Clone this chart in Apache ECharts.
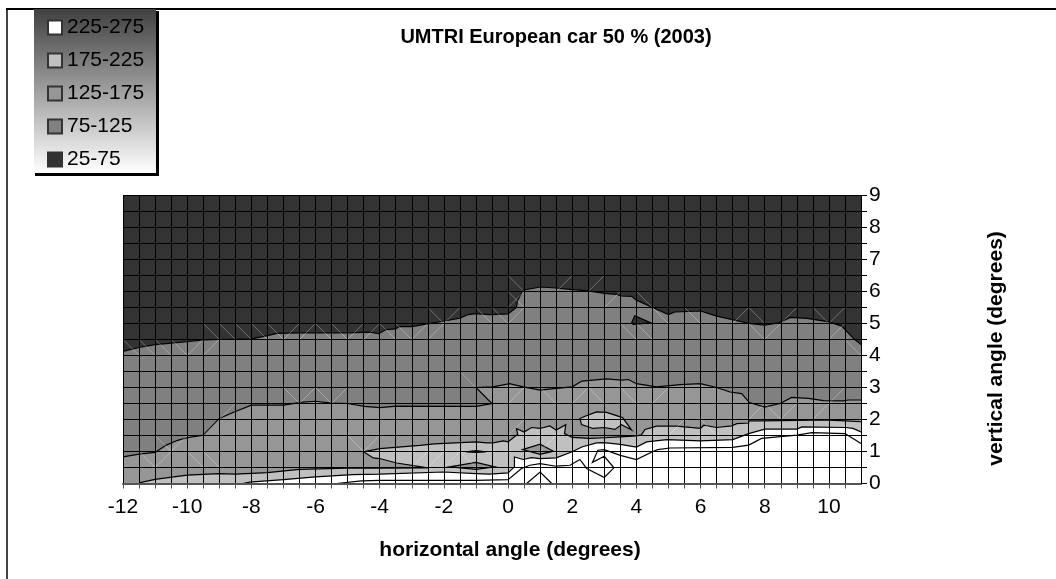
<!DOCTYPE html>
<html><head><meta charset="utf-8">
<style>html,body{margin:0;padding:0;background:#fff}#c{width:1056px;height:579px}</style>
<script src="https://cdn.jsdelivr.net/npm/echarts@6/dist/echarts.min.js"></script>
</head><body><div id="c"></div>
<script>
const bandNames = ['25-75','75-125','125-175','175-225','225-275'];
const legendOrder = ['225-275','175-225','125-175','75-125','25-75'];
const bandColors = ['#333333','#808080','#969696','#c0c0c0','#ffffff'];

const contourTop = [[-12,4.13],[-11.5,4.25],[-11,4.34],[-10,4.43],[-9.5,4.49],[-9,4.5],[-8,4.52],[-7.5,4.62],[-7.2,4.69],[-6.45,4.71],[-5,4.71],[-4.3,4.73],[-4.03,4.68],[-3.8,4.81],[-3.5,4.83],[-3.4,4.9],[-3,4.9],[-2.03,5.07],[-1.5,5.17],[-1.24,5.28],[-1,5.31],[-0.57,5.28],[0,5.3],[0.26,5.5],[0.3,5.73],[0.47,6.04],[1,6.14],[1.5,6.11],[2,6.06],[2.5,6.02],[3,5.94],[3.4,5.91],[3.5,5.86],[3.85,5.85],[4,5.73],[4.42,5.54],[5,5.28],[5.2,5.36],[6,5.39],[6.5,5.23],[7,5.12],[7.5,5],[8,4.95],[8.43,5.02],[8.8,5.19],[9.32,5.16],[10,5.05],[10.4,4.92],[10.77,4.53],[11,4.34]];
const contourMid = [[-12,0.83],[-11.5,0.92],[-11,0.97],[-10.65,1.2],[-10.3,1.35],[-10,1.43],[-9.5,1.51],[-9,2.03],[-8.57,2.22],[-8,2.45],[-7,2.45],[-6.4,2.54],[-6,2.57],[-5.5,2.51],[-5,2.5],[-4.47,2.41],[-4,2.37],[-3.47,2.42],[-1,2.41],[-0.5,2.5],[-1,3],[-0.47,3.02],[0.05,3.12],[0.47,3.02],[1,2.92],[1.5,2.97],[2,3.02],[2.3,3.2],[3.07,3.27],[3.54,3.23],[3.75,3.25],[4,3.12],[4.63,3.02],[5.36,3.09],[6,3.12],[6.5,3],[6.92,2.86],[7.28,2.81],[7.52,2.53],[8,2.39],[8.48,2.5],[8.84,2.69],[9.36,2.66],[9.83,2.59],[10.45,2.58],[10.6,2.61],[11,2.61]];
const contourLight = [[-11.5,0.02],[-11,0.13],[-10,0.26],[-9,0.31],[-8.5,0.29],[-7.5,0.34],[-6.5,0.44],[-5,0.48],[-4,0.48],[-2.5,0.49],[-3.47,0.64],[-4,0.78],[-4.2,0.8],[-4.5,0.99],[-4,1.09],[-2.75,1.19],[-2.3,1.24],[-1,1.3],[-0.67,1.27],[-0.47,1.27],[-0.15,1.33],[0,1.3],[0.3,1.54],[0.26,1.72],[0.5,1.61],[0.73,1.75],[1,1.72],[1.3,1.8],[1.5,1.67],[1.8,1.84],[1.76,1.56],[2,1.44],[2.55,1.41],[3,1.43],[3.5,1.46],[3.9,1.48],[4.15,1.51],[4.27,1.69],[4.63,1.79],[5.26,1.79],[6,1.72],[6.1,1.82],[6.5,1.75],[6.97,1.8],[7.13,1.87],[7.5,1.89],[7.5,1.96],[8,1.96],[9.5,1.98],[10,1.98],[10.5,1.96],[11,1.93]];
const contourWhite = [[-8.27,0],[-8.05,0.04],[-7,0.12],[-6,0.21],[-4.85,0.28],[-4,0.29],[-2,0.36],[-1,0.31],[-0.57,0.29],[0,0.33],[0.2,0.52],[0.2,0.83],[0.47,0.75],[0.73,0.81],[1,0.78],[1.5,0.8],[2,0.99],[2.3,1.14],[2.76,1.27],[3,1.28],[3.5,1.22],[4,1.14],[4.32,1.3],[4.95,1.37],[6,1.33],[7,1.37],[7.5,1.56],[8,1.7],[9,1.7],[9.16,1.77],[10.5,1.75],[10.75,1.72],[11,1.61]];

const islandDark = [[3.95,5.24],[4.45,5.02],[3.9,4.97],[3.85,5.02]];
const islandGrayA = [[-1.82,0.52],[-1,0.66],[-0.41,0.52],[-1,0.44]];
const islandGrayB = [[0.45,1.06],[1,1.23],[1.41,1.01],[1,0.91]];
const islandGrayC = [[-1.3,0.99],[-1,1.03],[-0.7,0.99],[-1,0.97]];
const islandLight = [[2.24,2.03],[2.29,1.84],[2.65,1.72],[3,1.75],[3.33,1.69],[3.54,1.84],[3.85,1.67],[3.57,2.06],[3.07,2.22],[2.76,2.24],[2.4,2.1]];

const whiteLineA = [[-5.35,0],[-4.57,0.08],[-4,0.1],[-1,0.1],[0,0.12],[0.42,0.47],[0.68,0.57],[1,0.62],[1.5,0.54],[1.93,0.57],[2.24,0.75],[2.45,0.47],[3,0.19],[3.3,0.49],[3,0.85],[2.63,0.66],[2.8,1.04],[3,1.06],[3.5,0.88],[4,0.75],[4.5,0.99],[4.66,1.06],[5.05,1.11],[7,1.13],[7.5,1.2],[7.9,1.41],[9,1.51],[9.47,1.59],[10.5,1.56],[11,1.25]];
const whiteLineB = [[0.58,0],[1,0.36],[1.36,0]];

// [left edge, bottom edge, kind]: kind 0 is "\", kind 1 is "/"
const cellDiagonals = [[-12,4,0],[-11.5,4,0],[-11,4,0],[-10.5,4,0],[-10,4,1],[-9.5,4,1],
[-9.5,4.5,0],[-9,4.5,0],[-8.5,4.5,0],[-8,4.5,0],[-7.5,4.5,0],[-7,4.5,1],[-6.5,4.5,1],[-6,4.5,0],[-5.5,4.5,0],[-5,4.5,1],[-4.5,4.5,1],[-4,4.5,0],[-3.5,4.5,0],[-3,4.5,1],[-2.5,4.5,1],
[-2.5,5,0],[-2,5,1],[-1,5,0],[-0.5,5,0],[0,5,1],[0,5.5,1],[0,5.5,0],[0,6,0],[1.5,6,1],[2.5,6,1],[3,5.5,1],[4,5.5,0],[4.5,5,0],[5.5,5,0],[7,5,1],[7.5,5,0],[8.5,5,1],[9.5,5,0],[10,5,1],
[3.5,4.5,0],[4,4.5,0],[7.5,4.5,0],[8,4.5,1],[10,4.5,1],[10.5,4,0],
[-1.5,3,0],[-7,2.5,0],[-6.5,2.5,1],[-6,2.5,0],[-5.5,2.5,1],[-9,2,1],[-9.5,1.5,1],[-5,1,0],[-4.5,1,1],[-11,1,0],[-10.5,1,1],[-11.5,0.5,0],[-11,0.5,1],[-10,0.5,0],[-9.5,0.5,0],
[0,2.5,1],[1,2.5,0],[2,2.5,1],[2.5,2.5,0],[3.5,2.5,0],[4.5,2.5,1],[7.5,2,1],[8,2,0],[8.5,2,1],[9.5,2,1],[10,2.5,1],[-3,0.5,1],[-2.5,0.5,1],[-2,0.5,1],[-1.5,0.5,0],[0,1.5,1],[1,1,1],[5,1.5,1],[6,1.5,0]];

const xRange = [-12, 11];
const yRange = [0, 9];
const xTickStep = 0.5, yTickStep = 0.5;

function pts(api, arr){ return arr.map(p => api.coord(p)); }
function bandSeries(idx, shapes){
  return {
    name: bandNames[idx], type: 'custom', coordinateSystem: 'cartesian2d',
    z: 2 + idx, silent: true, clip: true,
    itemStyle: {color: bandColors[idx], borderColor: '#333', borderWidth: 1},
    data: shapes.map(s => s.line[0]),
    renderItem: function(params, api){
      const s = shapes[params.dataIndex];
      const children = [];
      const base = s.line;
      const edge = {stroke:'#000', lineWidth:1.2, fill:null};
      if (s.open) {
        const closing = [[xRange[1], 0], [base[0][0], 0]];
        children.push({type:'polygon', shape:{points: pts(api, base.concat(closing))}, style:{fill: s.color, stroke: null}});
        children.push({type:'polyline', shape:{points: pts(api, base)}, style:edge});
      } else if (s.stroke) {
        children.push({type:'polyline', shape:{points: pts(api, base)}, style:edge});
      } else if (s.full) {
        children.push({type:'polygon', shape:{points: pts(api, base)}, style:{fill: s.color, stroke: null}});
      } else {
        children.push({type:'polygon', shape:{points: pts(api, base)}, style:{fill: s.color, stroke:'#000', lineWidth:1.2}});
      }
      return {type:'group', children};
    }
  };
}

const plotCorners = [[xRange[0],yRange[0]],[xRange[1],yRange[0]],[xRange[1],yRange[1]],[xRange[0],yRange[1]]];
const series = [
  bandSeries(0, [{line: plotCorners, color: bandColors[0], full: true}]),
  bandSeries(1, [{line: contourTop, color: bandColors[1], open: true}, {line: islandDark, color: bandColors[0]}]),
  bandSeries(2, [{line: contourMid, color: bandColors[2], open: true}]),
  bandSeries(3, [{line: contourLight, color: bandColors[3], open: true}, {line: islandLight, color: bandColors[3]}, {line: islandGrayA, color: bandColors[2]}, {line: islandGrayB, color: bandColors[2]}, {line: islandGrayC, color: bandColors[2]}]),
  bandSeries(4, [{line: contourWhite, color: bandColors[4], open: true}, {line: whiteLineA, stroke: true}, {line: whiteLineB, stroke: true}])
];
series.push({
  type:'custom', name:'cell diagonals', coordinateSystem:'cartesian2d', z: 8, silent:true, clip:true,
  data: cellDiagonals,
  renderItem: function(params, api){
    const left = api.value(0), bottom = api.value(1), kind = api.value(2);
    const a = api.coord(kind ? [left, bottom] : [left, bottom + yTickStep]);
    const b = api.coord(kind ? [left + xTickStep, bottom + yTickStep] : [left + xTickStep, bottom]);
    return {type:'line', shape:{x1:a[0],y1:a[1],x2:b[0],y2:b[1]}, style:{stroke:'rgba(255,255,255,0.3)', lineWidth:1}};
  }
});

const font = '"Liberation Sans", Arial, sans-serif';
const chart = echarts.init(document.getElementById('c'), null, {renderer:'canvas'});
chart.setOption({
  animation: false,
  backgroundColor: '#fff',
  title: {text:'UMTRI European car 50 % (2003)', left: 551, top: 22, textAlign:'center',
    textStyle:{fontFamily:font, fontWeight:'bold', fontSize:20, color:'#000'}},
  grid: {left:123, top:195.5, width:738, height:288, containLabel:false},
  legend: {
    data: legendOrder, orient:'vertical', left:47, top:17, padding:0, itemGap:12,
    itemWidth:14, itemHeight:14, icon:'rect', selectedMode:false,
    textStyle:{fontFamily:font, fontSize:21, lineHeight:20, color:'#000'}
  },
  xAxis: {
    type:'value', min:xRange[0], max:xRange[1], interval:xTickStep, z:10,
    axisLine:{onZero:false, lineStyle:{color:'#555',width:2}},
    axisTick:{length:5, lineStyle:{color:'#555'}},
    splitLine:{show:true, lineStyle:{color:'#000',width:1}},
    axisLabel:{fontFamily:font, fontSize:21, color:'#000', margin:13, showMinLabel:true, showMaxLabel:false,
      formatter: v => (v % 2 === 0 ? String(v) : '')},
    name:'horizontal angle (degrees)', nameLocation:'middle', nameGap:56,
    nameTextStyle:{fontFamily:font, fontWeight:'bold', fontSize:21, color:'#000', padding:[0,0,0,36]}
  },
  yAxis: {
    type:'value', position:'right', min:yRange[0], max:yRange[1], interval:yTickStep, z:10,
    axisLine:{onZero:false, show:true, lineStyle:{color:'#000',width:1}},
    axisTick:{show:true, length:6, lineStyle:{color:'#000'}},
    splitLine:{show:true, lineStyle:{color:'#000',width:1}},
    axisLabel:{fontFamily:font, fontSize:21, color:'#000', margin:8, padding:[4,0,0,0], showMinLabel:true, showMaxLabel:true,
      formatter: v => (Number.isInteger(v) ? String(v) : '')},
    name:'vertical angle (degrees)', nameLocation:'middle', nameGap:125, nameRotate:90,
    nameTextStyle:{fontFamily:font, fontWeight:'bold', fontSize:21, color:'#000', padding:[0,18,0,0]}
  },
  graphic: [
    {type:'rect', z:-10, shape:{x:6,y:8,width:2,height:571}, style:{fill:'#444'}},
    {type:'rect', z:-10, shape:{x:6,y:8,width:1050,height:2}, style:{fill:'#000'}},
    {type:'rect', z:-9, shape:{x:35,y:11,width:124,height:165}, style:{fill:'#000'}},
    {type:'rect', z:-8, shape:{x:34,y:9,width:122,height:164},
      style:{fill:new echarts.graphic.LinearGradient(0,0,0,1,[{offset:0,color:'#404040'},{offset:1,color:'#ffffff'}])}}
  ],
  series
});
</script></body></html>
